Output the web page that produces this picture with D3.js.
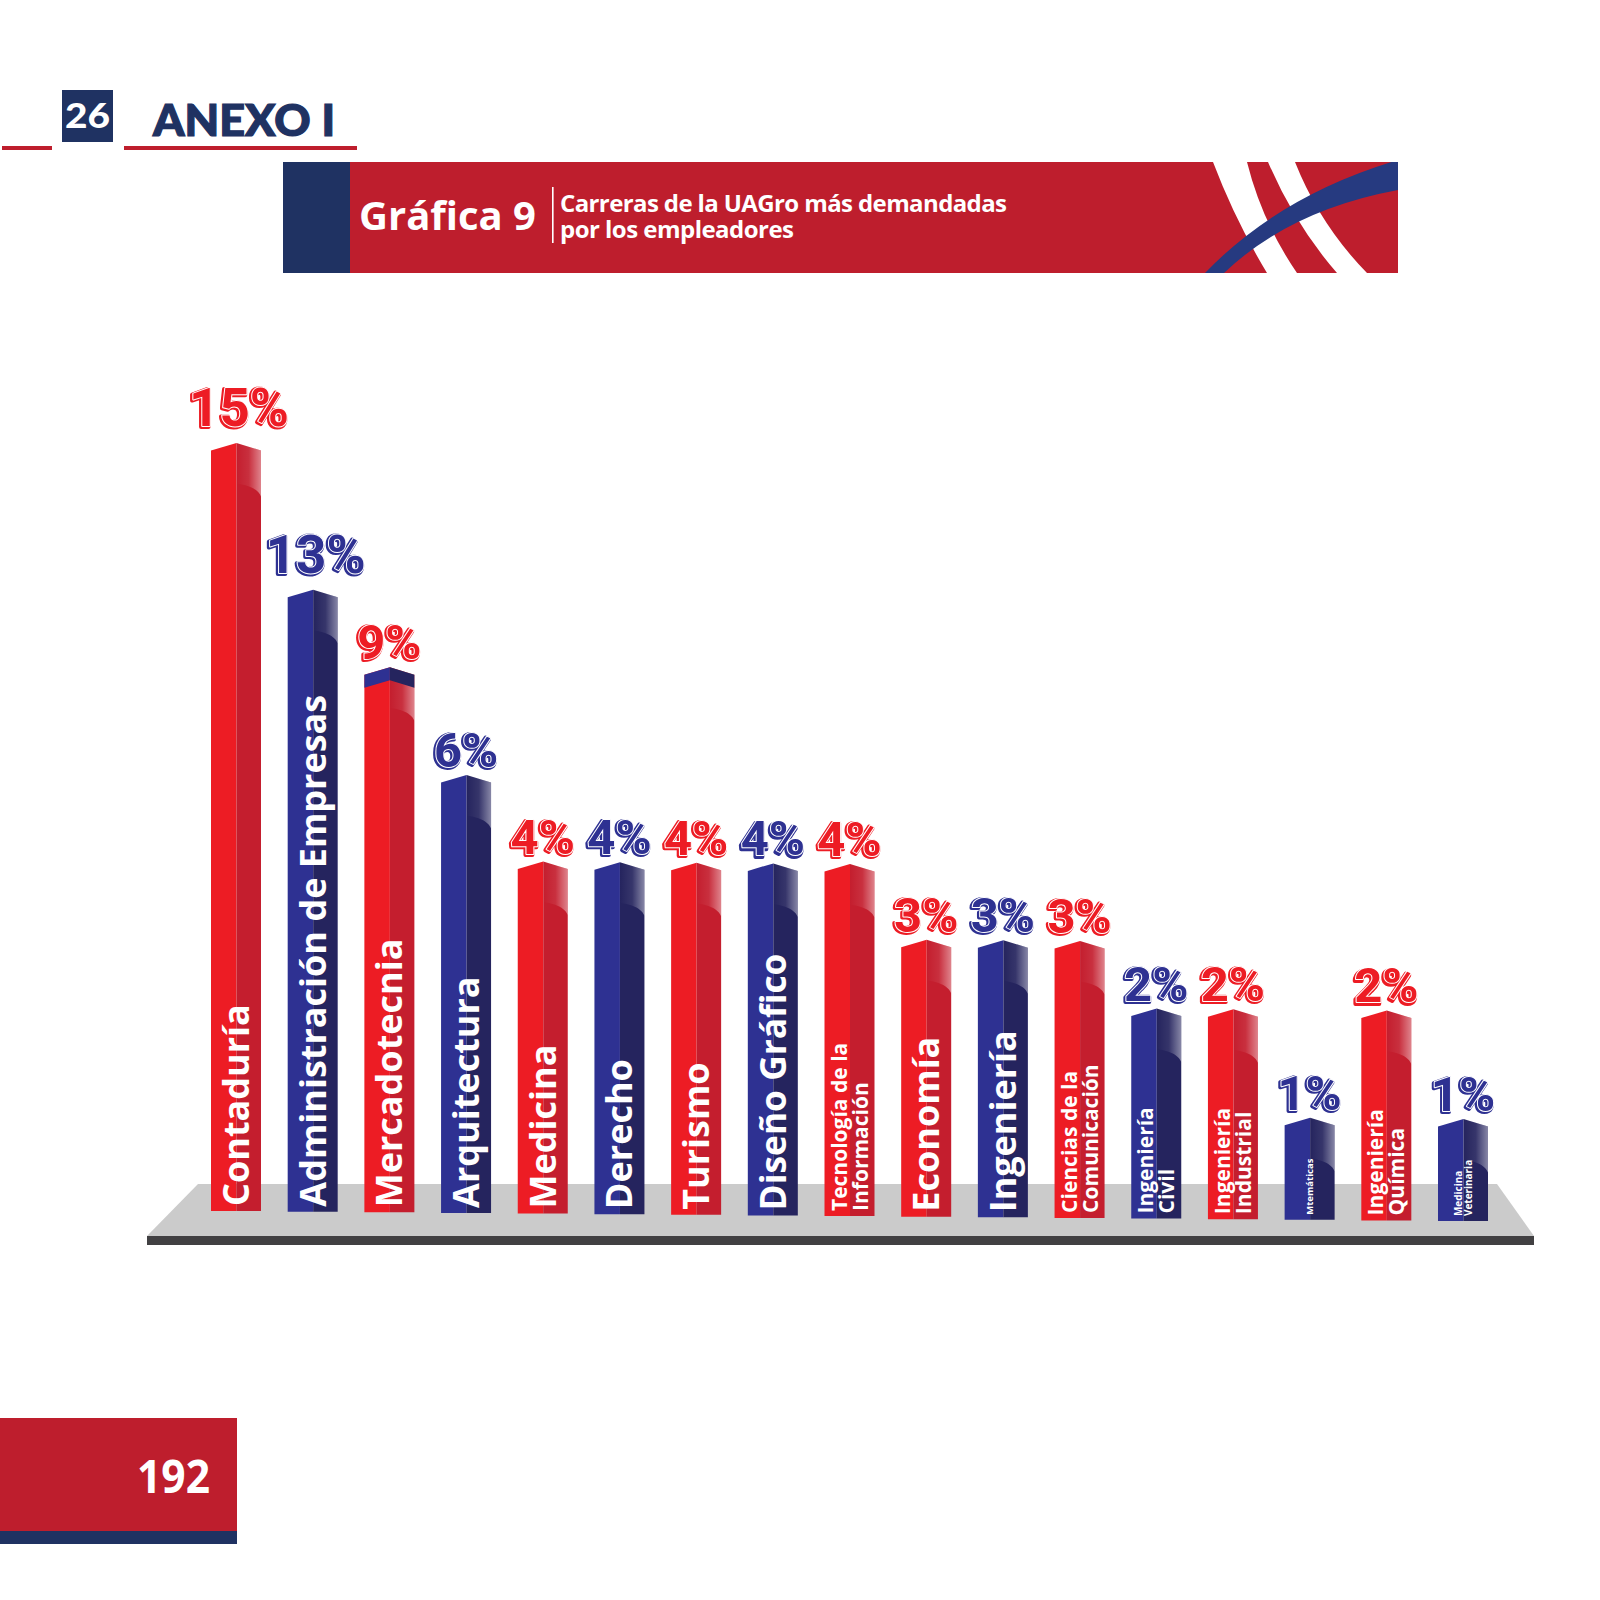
<!DOCTYPE html>
<html>
<head>
<meta charset="utf-8">
<script src="https://cdn.jsdelivr.net/npm/d3@7"></script>
<style>
  body { margin: 0; background: #fff; }
  svg { display: block; }
</style>
</head>
<body>
<script>
/* globals d3 */
// ---- data ----
const careers = [
  'Contaduría', 'Administración de Empresas', 'Mercadotecnia', 'Arquitectura',
  'Medicina', 'Derecho', 'Turismo', 'Diseño Gráfico', 'Tecnología de la\nInformación',
  'Economía', 'Ingeniería', 'Ciencias de la\nComunicación', 'Ingeniería\nCivil',
  'Ingeniería\nIndustrial', 'Mtemáticas', 'Ingeniería\nQuímica', 'Medicina\nVeterinaria'
]
const shares = [15, 13, 9, 6, 4, 4, 4, 4, 4, 3, 3, 3, 2, 2, 1, 2, 1]
const tones = ['red', 'blue', 'red', 'blue', 'red', 'blue', 'red', 'blue', 'red',
  'red', 'blue', 'red', 'blue', 'red', 'blue', 'red', 'blue']

const W = 1600, H = 1600
const RED = '#be1e2d', NAVY = '#1f3262'
const palette = {
  red: { face: '#ed1c24', side: '#c41e2e' },
  blue: { face: '#2e3192', side: '#25245e' }
}
const FONT = '"Open Sans", "Noto Sans", sans-serif'

const svg = d3.select('body').append('svg')
  .attr('width', W).attr('height', H)
  .attr('viewBox', [0, 0, W, H])
const defs = svg.append('defs')

// ---- page header ----
const head = svg.append('g')
head.append('rect').attr('x', 2).attr('y', 146).attr('width', 50).attr('height', 4).attr('fill', RED)
head.append('rect').attr('x', 124).attr('y', 146).attr('width', 233).attr('height', 4).attr('fill', RED)
head.append('rect').attr('x', 62).attr('y', 90).attr('width', 51).attr('height', 52).attr('fill', NAVY)
head.append('text').attr('x', 65).attr('y', 128)
  .attr('font-family', 'Lato, ' + FONT).attr('font-weight', 900).attr('font-size', 35)
  .attr('fill', '#fff').attr('textLength', 45).attr('lengthAdjust', 'spacingAndGlyphs')
  .text('26')
head.append('text').attr('x', 153).attr('y', 136)
  .attr('font-family', 'Lato, ' + FONT).attr('font-weight', 900).attr('font-size', 43)
  .attr('fill', NAVY).attr('stroke', NAVY).attr('stroke-width', 1.2)
  .attr('textLength', 182).attr('lengthAdjust', 'spacingAndGlyphs')
  .text('ANEXO I')

// ---- title banner ----
const banner = svg.append('g')
defs.append('clipPath').attr('id', 'bannerClip')
  .append('rect').attr('x', 350).attr('y', 162).attr('width', 1048).attr('height', 111)
banner.append('rect').attr('x', 283).attr('y', 162).attr('width', 67).attr('height', 111).attr('fill', NAVY)
banner.append('rect').attr('x', 350).attr('y', 162).attr('width', 1048).attr('height', 111).attr('fill', RED)
const deco = banner.append('g').attr('clip-path', 'url(#bannerClip)')
deco.append('path').attr('fill', '#fff')
  .attr('d', 'M1213,162 L1247,162 Q1262,222 1297,273 L1267,273 Q1235,220 1213,162 Z')
deco.append('path').attr('fill', '#fff')
  .attr('d', 'M1268,162 L1295,162 Q1320,225 1367,273 L1337,273 Q1295,225 1268,162 Z')
deco.append('path').attr('fill', '#263a80')
  .attr('d', 'M1205,273 Q1280,195 1398,160 L1398,190 Q1290,210 1224,273 Z')
banner.append('text').attr('x', 359).attr('y', 230)
  .attr('font-family', FONT).attr('font-weight', 700).attr('font-size', 39)
  .attr('fill', '#fff').attr('textLength', 177).attr('lengthAdjust', 'spacingAndGlyphs')
  .text('Gráfica 9')
banner.append('rect').attr('x', 552).attr('y', 187).attr('width', 1.6).attr('height', 56).attr('fill', '#fff')
const sub = banner.append('text')
  .attr('font-family', FONT).attr('font-weight', 700).attr('font-size', 24)
  .attr('fill', '#fff').attr('lengthAdjust', 'spacingAndGlyphs')
sub.append('tspan').attr('x', 560).attr('y', 212).attr('textLength', 447)
  .text('Carreras de la UAGro más demandadas')
sub.append('tspan').attr('x', 560).attr('y', 238).attr('textLength', 234)
  .text('por los empleadores')

// ---- chart ----
const n = careers.length
const x = d3.scaleBand().domain(d3.range(n)).range([211, 1488]).paddingInner(0.348).paddingOuter(0)
// the floor is drawn in slight perspective: bars further right stand a little lower
const base = d3.scaleLinear().domain([0, n - 1]).range([1211, 1221])
// the original artwork is not drawn to a linear scale, so map through its own stops
const h = d3.scaleLinear()
  .domain([0, 1, 2, 3, 4, 6, 9, 13, 15])
  .range([0, 102, 210, 277, 352, 438, 545, 622, 768])

const [r0, r1] = x.range()
const floorTop = 1184, floorBot = 1236
svg.append('path').attr('fill', '#cbcbcb')
  .attr('d', `M${r0 - 13},${floorTop} L${r1 + 9},${floorTop} L${r1 + 46},${floorBot} L${r0 - 64},${floorBot} Z`)
svg.append('rect').attr('x', r0 - 64).attr('y', floorBot).attr('width', r1 - r0 + 110).attr('height', 9)
  .attr('fill', '#414042')

const gloss = defs.append('linearGradient').attr('id', 'gloss').attr('x1', 0).attr('x2', 1).attr('y1', 0).attr('y2', 0)
gloss.append('stop').attr('offset', 0).attr('stop-color', '#fff').attr('stop-opacity', 0)
gloss.append('stop').attr('offset', 0.5).attr('stop-color', '#fff').attr('stop-opacity', 0.08)
gloss.append('stop').attr('offset', 1).attr('stop-color', '#fff').attr('stop-opacity', 0.45)

const rows = careers.map((c, i) => ({ i, career: c, value: shares[i], tone: tones[i] }))
const cappedBars = ['Mercadotecnia'] // the artwork shows a stray blue cap on this one
const roof = 7.5

const bars = svg.append('g').selectAll('g').data(rows).join('g')
bars.each(function (d) {
  const g = d3.select(this)
  const x0 = x(d.i), w = x.bandwidth(), xr = x0 + w, xs = x0 + w * 0.51
  const b = base(d.i), top = b - h(d.value)
  const pal = palette[d.tone]
  g.append('path').attr('fill', pal.face)
    .attr('d', `M${x0},${top + roof} L${xs},${top} L${xs},${b} L${x0},${b} Z`)
  g.append('path').attr('fill', pal.side)
    .attr('d', `M${xs},${top} L${xr},${top + roof} L${xr},${b} L${xs},${b} Z`)
  g.append('path').attr('fill', 'url(#gloss)')
    .attr('d', `M${xs},${top} L${xr},${top + roof} L${xr},${top + roof + 46} C${xr - 4},${top + roof + 36} ${xs + 6},${top + roof + 34} ${xs},${top + roof + 33} Z`)
  if (cappedBars.includes(d.career)) {
    const cap = 13
    g.append('path').attr('fill', palette.blue.face)
      .attr('d', `M${x0},${top + roof} L${xs},${top} L${xs},${top + cap} L${x0},${top + roof + cap} Z`)
    g.append('path').attr('fill', palette.blue.side)
      .attr('d', `M${xs},${top} L${xr},${top + roof} L${xr},${top + roof + cap} L${xs},${top + cap} Z`)
  }

  // value label with an inline / outline look
  const big = d.value >= 10
  const fs = big ? 53 : 49
  const ly = top - (big ? 17 : 8)
  const cx = x0 + w / 2 + (big ? 3 : 0)
  const label = `${d.value}%`
  const col = pal.face
  const lab = g.append('g').attr('font-family', 'Roboto, ' + FONT).attr('font-weight', 700)
    .attr('font-size', fs).attr('text-anchor', 'middle').attr('stroke-linejoin', 'round')
  lab.append('text').attr('x', cx - 1.2).attr('y', ly + 1.2)
    .attr('fill', col).attr('stroke', col).attr('stroke-width', 4).text(label)
  lab.append('text').attr('x', cx).attr('y', ly)
    .attr('fill', col).attr('stroke', '#fff').attr('stroke-width', 2).text(label)
  lab.append('text').attr('x', cx).attr('y', ly)
    .attr('fill', col).text(label)

  // career name, rotated, fitted into the bar
  const lines = d.career.split('\n')
  const barH = b - top
  const avail = barH - Math.min(90, barH * 0.4) - 5
  const maxSize = lines.length > 1 ? 21 : 36
  const tg = g.append('g').attr('transform', `translate(${x0 + w / 2},${b - 5}) rotate(-90)`)
  const t = tg.append('text').attr('font-family', FONT).attr('font-weight', 700)
    .attr('font-size', 100).attr('fill', '#fff')
  const spans = t.selectAll('tspan').data(lines).join('tspan')
    .attr('x', 0)
    .attr('dy', (l, j) => j === 0 ? `${0.36 - (lines.length - 1) * 0.5}em` : '1em')
    .text(l => l)
  let longest = 0
  spans.each(function () { longest = Math.max(longest, this.getComputedTextLength()) })
  const size = Math.min(maxSize, avail / (longest / 100))
  t.attr('font-size', size)
})

// ---- page number ----
svg.append('rect').attr('x', 0).attr('y', 1418).attr('width', 237).attr('height', 113).attr('fill', RED)
svg.append('rect').attr('x', 0).attr('y', 1531).attr('width', 237).attr('height', 13).attr('fill', NAVY)
svg.append('text').attr('x', 137).attr('y', 1493)
  .attr('font-family', FONT).attr('font-weight', 700).attr('font-size', 46)
  .attr('fill', '#fff').attr('textLength', 73).attr('lengthAdjust', 'spacingAndGlyphs')
  .text('192')
</script>
</body>
</html>
